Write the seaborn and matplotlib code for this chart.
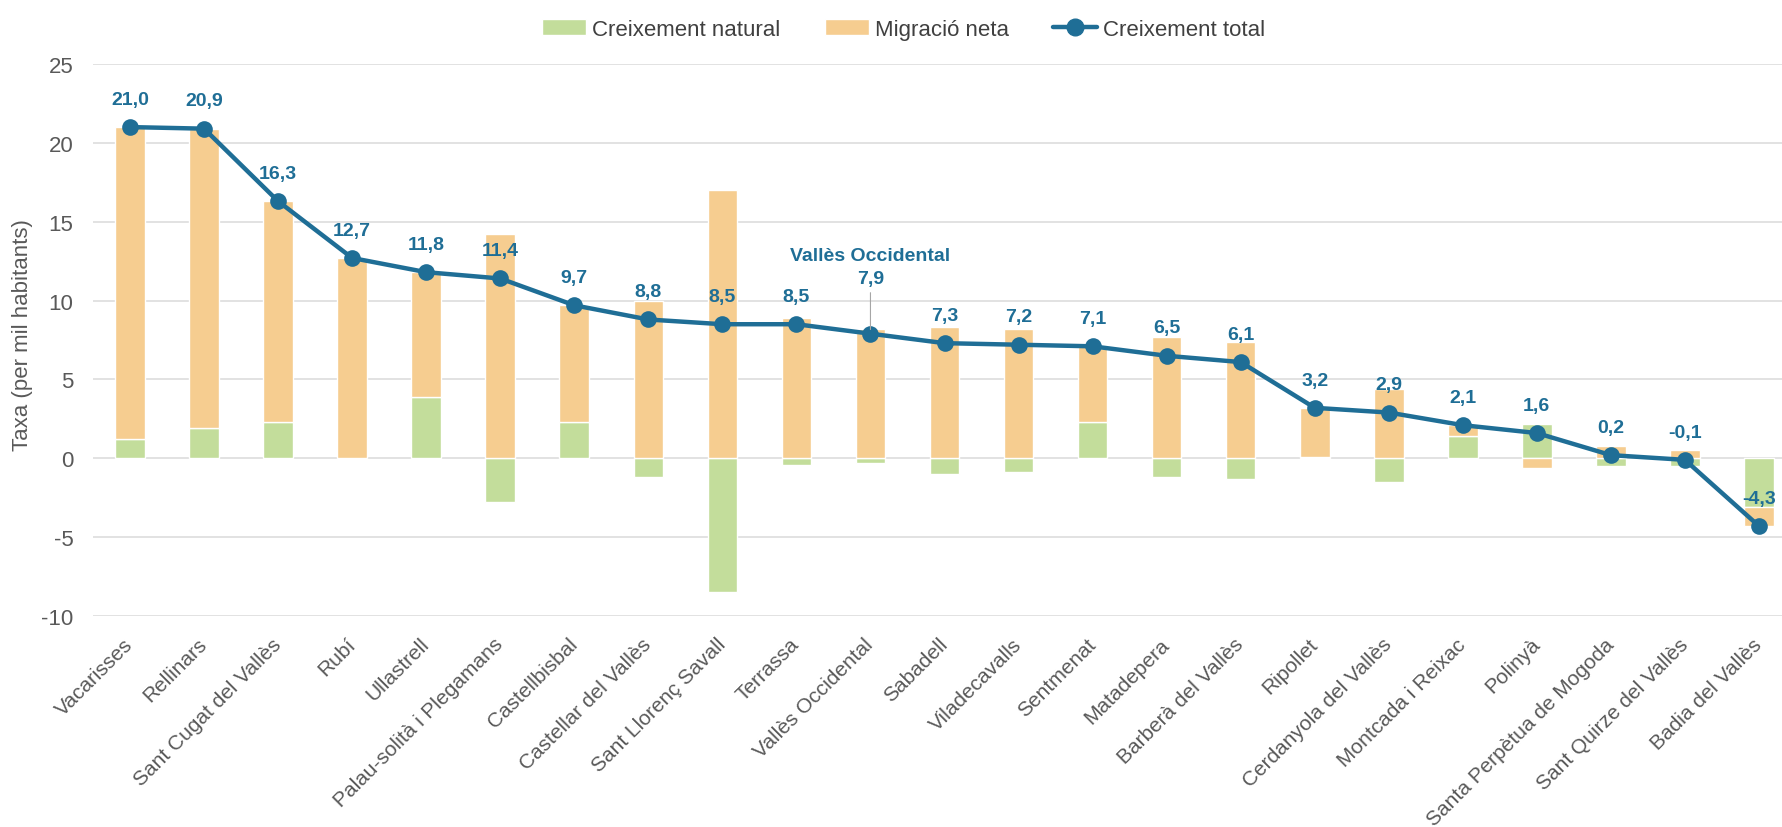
import numpy as np
import matplotlib
matplotlib.use("Agg")
import matplotlib.pyplot as plt
from matplotlib.patches import Patch
from matplotlib.lines import Line2D
import seaborn as sns

# Data (per mil habitants)
municipis = [
    "Vacarisses", "Rellinars", "Sant Cugat del Vallès", "Rubí", "Ullastrell",
    "Palau-solità i Plegamans", "Castellbisbal", "Castellar del Vallès",
    "Sant Llorenç Savall", "Terrassa", "Vallès Occidental", "Sabadell",
    "Viladecavalls", "Sentmenat", "Matadepera", "Barberà del Vallès", "Ripollet",
    "Cerdanyola del Vallès", "Montcada i Reixac", "Polinyà",
    "Santa Perpètua de Mogoda", "Sant Quirze del Vallès", "Badia del Vallès",
]
creixement_natural = [1.2, 1.9, 2.3, 0.0, 3.9, -2.8, 2.3, -1.2, -8.5, -0.4, -0.3, -1.0,
                      -0.9, 2.3, -1.2, -1.3, 0.1, -1.5, 1.4, 2.2, -0.5, -0.5, -3.1]
migracio_neta = [19.8, 19.0, 14.0, 12.7, 7.9, 14.2, 7.4, 10.0, 17.0, 8.9, 8.2, 8.3,
                 8.2, 4.8, 7.7, 7.4, 3.1, 4.4, 0.7, -0.6, 0.8, 0.5, -1.2]
creixement_total = [21.0, 20.9, 16.3, 12.7, 11.8, 11.4, 9.7, 8.8, 8.5, 8.5, 7.9, 7.3,
                    7.2, 7.1, 6.5, 6.1, 3.2, 2.9, 2.1, 1.6, 0.2, -0.1, -4.3]
ref_index = municipis.index("Vallès Occidental")

GREEN = "#C3DD9B"
ORANGE = "#F6CD90"
BLUE = "#1F6E96"
GREY = "#595959"

sns.set_theme(style="white")
plt.rcParams["font.family"] = ["Liberation Sans", "DejaVu Sans"]
plt.rcParams["axes.unicode_minus"] = False

nat = np.array(creixement_natural)
mig = np.array(migracio_neta)
# Excel-style stacking: positives stack up, negatives stack down
mig_bottom = np.where(np.sign(mig) == np.sign(nat), nat, 0.0)

fig = plt.figure(figsize=(17.82, 8.28), dpi=100)
ax = fig.add_axes([93 / 1782, (828 - 617) / 828, (1796 - 93) / 1782, (617 - 65) / 828])

sns.barplot(x=municipis, y=creixement_natural, color=GREEN, saturation=1,
            width=0.4, ax=ax, zorder=2)
sns.barplot(x=municipis, y=migracio_neta, bottom=mig_bottom, color=ORANGE,
            saturation=1, width=0.4, ax=ax, zorder=2)

x = np.arange(len(municipis))
sns.lineplot(x=x, y=creixement_total, sort=False, color=BLUE, lw=3.2, marker="o",
             markersize=12, markeredgewidth=0, ax=ax, zorder=3)

# Data labels
for i, v in enumerate(creixement_total):
    txt = f"{v:.1f}".replace(".", ",")
    if i == ref_index:
        ax.annotate(txt, xy=(i, v), xytext=(0, 40), textcoords="offset points",
                    ha="center", va="center", fontsize=14, fontweight="bold", color=BLUE,
                    arrowprops=dict(arrowstyle="-", color="#A6A6A6", lw=0.8,
                                    shrinkA=2, shrinkB=3))
        ax.annotate("Vallès Occidental", xy=(i, v), xytext=(0, 56),
                    textcoords="offset points", ha="center", va="center",
                    fontsize=14, fontweight="bold", color=BLUE)
    else:
        ax.annotate(txt, xy=(i, v), xytext=(0, 20), textcoords="offset points",
                    ha="center", va="center", fontsize=14, fontweight="bold", color=BLUE)

ax.set_ylim(-10, 25)
ax.set_xlim(-0.5, len(municipis) - 0.5)
ax.set_yticks(range(-10, 26, 5))
ax.yaxis.grid(True, color="#DDDDDD", lw=1.2)
ax.set_axisbelow(True)
for s in ax.spines.values():
    s.set_visible(False)

ax.tick_params(axis="y", labelsize=16, labelcolor=GREY, length=0, pad=14)
ax.tick_params(axis="x", labelsize=15, labelcolor=GREY, length=0, pad=18)
for lab in ax.get_xticklabels():
    lab.set_rotation(45)
    lab.set_ha("right")
    lab.set_va("center")
    lab.set_rotation_mode("anchor")

ax.set_xlabel("")
ax.set_ylabel("Taxa (per mil habitants)", fontsize=16, color=GREY)
ax.yaxis.set_label_coords(-0.0352, 0.511)

handles = [
    Patch(facecolor=GREEN, label="Creixement natural"),
    Patch(facecolor=ORANGE, label="Migració neta"),
    Line2D([0], [0], color=BLUE, lw=3.2, marker="o", markersize=12, label="Creixement total"),
]
fig.legend(handles=handles, loc="upper center", bbox_to_anchor=(0.507, 1.0), ncol=3,
           frameon=False, fontsize=16, handlelength=2.0, handleheight=0.7,
           handletextpad=0.25, columnspacing=2.0, labelcolor="#404040")

fig.savefig("out.png", dpi=100)
